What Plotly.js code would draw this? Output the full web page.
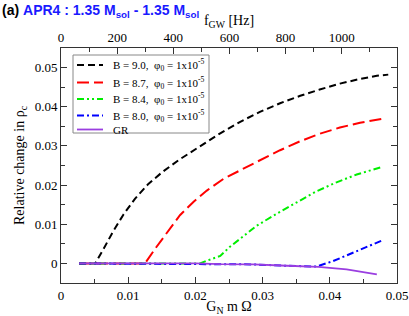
<!DOCTYPE html>
<html><head><meta charset="utf-8">
<script src="https://cdn.plot.ly/plotly-3.0.1.min.js"></script>
<style>html,body{margin:0;padding:0;background:#fff}#c{width:409px;height:316px}</style>
</head><body><div id="c"></div>
<script>
// G_N m Omega values and relative change in rho_c
const xB90 = [0.0027, 0.0051, 0.0063, 0.0078, 0.0093, 0.0110, 0.0130, 0.0152, 0.0177, 0.0202, 0.0235, 0.0266, 0.0296, 0.0326, 0.0356, 0.0385, 0.0415, 0.0445, 0.0470, 0.0487];
const yB90 = [0, 0, 0.0036, 0.0083, 0.0125, 0.0165, 0.0203, 0.0235, 0.0266, 0.0294, 0.0330, 0.0361, 0.0387, 0.0409, 0.0428, 0.0444, 0.0459, 0.0471, 0.0479, 0.0482];
const xB87 = [0.0027, 0.0125, 0.0142, 0.0160, 0.0177, 0.0197, 0.0217, 0.0242, 0.0266, 0.0291, 0.0326, 0.0356, 0.0385, 0.0415, 0.0445, 0.0477];
const yB87 = [0, 0, 0.0042, 0.0085, 0.0123, 0.0157, 0.0186, 0.0216, 0.0238, 0.0259, 0.0289, 0.0312, 0.0331, 0.0347, 0.0359, 0.0369];
const xB84 = [0.0027, 0.0207, 0.0217, 0.0237, 0.0251, 0.0266, 0.0291, 0.0321, 0.0351, 0.0380, 0.0410, 0.0440, 0.0477];
const yB84 = [0, 0, 0.0007, 0.0019, 0.0042, 0.0062, 0.0096, 0.0127, 0.0157, 0.0184, 0.0207, 0.0227, 0.0246];
const xB80 = [0.0027, 0.0237, 0.0286, 0.0336, 0.0380, 0.0405, 0.0425, 0.0445, 0.0477];
const yB80 = [0, -0.0002, -0.00025, -0.0006, -0.0008, 0.0006, 0.0021, 0.0036, 0.0058];
const xGR = [0.0027, 0.0100, 0.0200, 0.0237, 0.0286, 0.0336, 0.0383, 0.0425, 0.0470];
const yGR = [0, 0, 0, -0.0002, -0.00025, -0.0006, -0.00086, -0.0015, -0.0028];
const names = ['B = 9.0,&nbsp;&nbsp;φ<sub>0</sub> = 1x10<sup>-5</sup>', 'B = 8.7,&nbsp;&nbsp;φ<sub>0</sub> = 1x10<sup>-5</sup>', 'B = 8.4,&nbsp;&nbsp;φ<sub>0</sub> = 1x10<sup>-5</sup>', 'B = 8.0,&nbsp;&nbsp;φ<sub>0</sub> = 1x10<sup>-5</sup>', 'GR'];
const fgwMax = 1197; // top axis (f_GW in Hz) at G_N m Omega = 0.05

const serif = 'Liberation Serif, Times New Roman, serif';
const lines = [
  {color: '#000000', width: 2, dash: '7px,4px'},
  {color: '#ff0000', width: 2, dash: '12px,5px'},
  {color: '#00ee00', width: 2, dash: '7px,3px,2px,3px,2px,3px'},
  {color: '#0000ff', width: 2, dash: '7px,3px,2px,3px'},
  {color: '#9a3ee0', width: 1.8, dash: 'solid'}
];
const xs = [xB90, xB87, xB84, xB80, xGR];
const ys = [yB90, yB87, yB84, yB80, yGR];
const traces = xs.map((x, i) => ({type: 'scatter', mode: 'lines', hoverinfo: 'skip', x: x, y: ys[i], name: names[i], line: lines[i], showlegend: false}));
traces.push({type: 'scatter', x: [], y: [], xaxis: 'x2', yaxis: 'y', showlegend: false, hoverinfo: 'skip'});

// plot-area geometry (px) for placing the legend box
const L = 61, R = 397, T = 48, B = 283;
const px = v => (v - L) / (R - L);
const py = v => (B - v) / (B - T);
const rowY = [65, 82.5, 99, 115.5, 129.5];
const shapes = [{type: 'rect', xref: 'paper', yref: 'paper', x0: px(73), x1: px(209), y0: py(133), y1: py(55),
  line: {color: '#888', width: 1}, fillcolor: '#fff', layer: 'above'}];
const annotations = [];
rowY.forEach((r, i) => {
  shapes.push({type: 'line', xref: 'paper', yref: 'paper', x0: px(77), x1: px(103), y0: py(r), y1: py(r),
    line: {color: lines[i].color, width: lines[i].width, dash: lines[i].dash}, layer: 'above'});
  annotations.push({xref: 'paper', yref: 'paper', x: px(111), y: py(r), xanchor: 'left', yanchor: 'middle',
    text: names[i], showarrow: false, font: {family: serif, size: 11, color: '#000'}});
});

const axBase = {
  showline: true, linecolor: '#333', linewidth: 1, zeroline: false, showgrid: false,
  ticks: 'inside', ticklen: 6, tickcolor: '#333', tickwidth: 1, automargin: false,
  tickfont: {family: serif, size: 13, color: '#000'}
};
const layout = {
  width: 409, height: 316,
  margin: {l: L, r: 409 - R, t: T, b: 316 - B},
  paper_bgcolor: '#fff', plot_bgcolor: '#fff',
  title: {
    text: '<b>(a)</b> <span style="color:#1a1aff"><b>APR4 : 1.35 M<sub>sol</sub> - 1.35 M<sub>sol</sub></b></span>',
    font: {family: 'Liberation Sans, Arial, sans-serif', size: 14, color: '#000'},
    xref: 'container', x: 0.005, xanchor: 'left', yref: 'container', y: 0.968, yanchor: 'middle'
  },
  xaxis: Object.assign({}, axBase, {
    range: [0, 0.05], dtick: 0.01,
    minor: {dtick: 0.005, ticks: 'inside', ticklen: 4, tickcolor: '#333'},
    title: {text: 'G<sub>N</sub> m Ω', font: {family: serif, size: 14, color: '#000'}, standoff: 3}
  }),
  xaxis2: Object.assign({}, axBase, {
    overlaying: 'x', side: 'top', anchor: 'y', range: [0, fgwMax], dtick: 200,
    minor: {dtick: 100, ticks: 'inside', ticklen: 4, tickcolor: '#333'},
    title: {text: 'f<sub>GW</sub> [Hz]', font: {family: serif, size: 14, color: '#000'}, standoff: 0}
  }),
  yaxis: Object.assign({}, axBase, {
    range: [-0.005, 0.055], dtick: 0.01, mirror: 'ticks',
    minor: {dtick: 0.005, ticks: 'inside', ticklen: 4, tickcolor: '#333'},
    title: {text: 'Relative change in ρ<sub>c</sub>', font: {family: serif, size: 14, color: '#000'}, standoff: 6}
  }),
  shapes: shapes,
  annotations: annotations,
  showlegend: false
};
Plotly.newPlot('c', traces, layout, {staticPlot: true, displayModeBar: false});
</script></body></html>
